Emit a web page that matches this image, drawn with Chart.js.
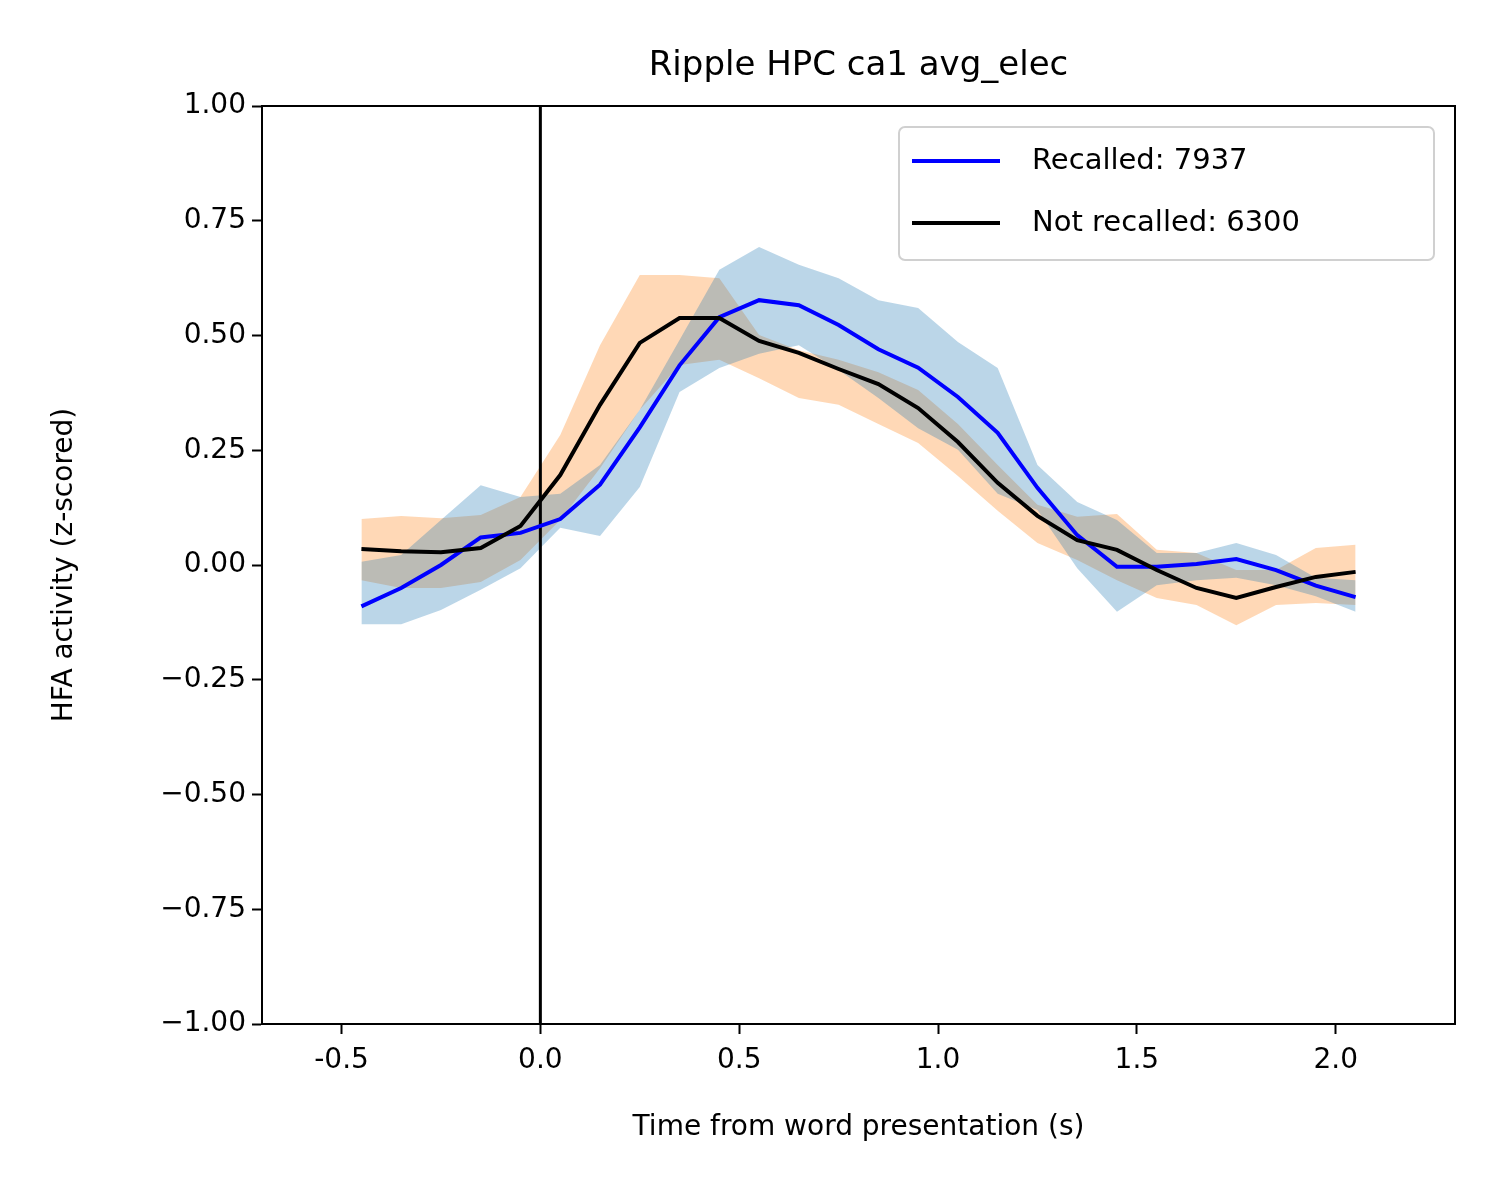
<!DOCTYPE html>
<html>
<head>
<meta charset="utf-8">
<script src="https://cdn.jsdelivr.net/npm/chart.js@4/dist/chart.umd.min.js"></script>
<style>body{margin:0;background:#fff}</style>
</head>
<body>
<canvas id="c" width="1500" height="1200"></canvas>
<script>
const times = [-0.45,-0.35,-0.25,-0.15,-0.05,0.05,0.15,0.25,0.35,0.45,0.55,0.65,0.75,0.85,0.95,1.05,1.15,1.25,1.35,1.45,1.55,1.65,1.75,1.85,1.95,2.05];
const recalled = [-0.09,-0.05,0.0,0.06,0.07,0.10,0.175,0.30,0.435,0.54,0.577,0.566,0.523,0.47,0.43,0.366,0.288,0.168,0.065,-0.004,-0.004,0.002,0.013,-0.011,-0.045,-0.07];
const recalledHi = [0.007,0.022,0.098,0.174,0.148,0.155,0.218,0.338,0.490,0.643,0.693,0.654,0.625,0.577,0.560,0.486,0.429,0.218,0.137,0.098,0.026,0.026,0.048,0.022,-0.028,-0.033];
const recalledLo = [-0.129,-0.129,-0.098,-0.054,-0.007,0.081,0.063,0.170,0.377,0.429,0.460,0.479,0.425,0.364,0.298,0.251,0.155,0.120,-0.007,-0.102,-0.044,-0.033,-0.028,-0.044,-0.068,-0.102];
const notRecalled = [0.035,0.030,0.028,0.037,0.085,0.196,0.349,0.484,0.538,0.538,0.488,0.462,0.427,0.394,0.342,0.268,0.179,0.107,0.054,0.033,-0.011,-0.05,-0.072,-0.048,-0.026,-0.015];
const notRecalledHi = [0.100,0.107,0.102,0.109,0.148,0.283,0.479,0.632,0.632,0.625,0.501,0.468,0.447,0.420,0.381,0.307,0.218,0.131,0.105,0.111,0.033,0.026,-0.011,-0.011,0.037,0.044];
const notRecalledLo = [-0.033,-0.050,-0.050,-0.037,0.011,0.098,0.211,0.338,0.436,0.447,0.407,0.364,0.349,0.307,0.266,0.194,0.118,0.048,0.011,-0.033,-0.072,-0.087,-0.131,-0.087,-0.083,-0.087];
const xTicks = [-0.5,0.0,0.5,1.0,1.5,2.0];
const yTicks = [-1.0,-0.75,-0.5,-0.25,0.0,0.25,0.5,0.75,1.0];

const pts = arr => arr.map((v, i) => ({x: times[i], y: v}));
const FONT = 'DejaVu Sans';
Chart.defaults.font.family = FONT;
Chart.defaults.color = '#000';

const band = (data, color, fill) => ({data: pts(data), borderWidth: 0, pointRadius: 0, backgroundColor: color, fill: fill, tension: 0, legend: false, order: 5});

const frame = {
  id: 'frame',
  afterDraw(chart) {
    const {ctx, chartArea: a} = chart;
    ctx.save();
    ctx.strokeStyle = '#000'; ctx.lineWidth = 2;
    ctx.strokeRect(a.left, a.top, a.right - a.left, a.bottom - a.top);
    ctx.fillStyle = '#000';
    ctx.textAlign = 'center'; ctx.textBaseline = 'middle';
    ctx.font = '34px ' + FONT;
    ctx.fillText('Ripple HPC ca1 avg_elec', (a.left + a.right) / 2, 66);
    ctx.font = '28px ' + FONT;
    ctx.fillText('Time from word presentation (s)', (a.left + a.right) / 2, 1128);
    ctx.save();
    ctx.translate(65, (a.top + a.bottom) / 2); ctx.rotate(-Math.PI / 2);
    ctx.fillText('HFA activity (z-scored)', 0, 0);
    ctx.restore();
    // legend
    const bx = 899, by = 127, bw = 535, bh = 133;
    ctx.fillStyle = 'rgba(255,255,255,0.8)';
    ctx.strokeStyle = '#d0d0d0'; ctx.lineWidth = 2;
    ctx.beginPath(); ctx.roundRect(bx, by, bw, bh, 6); ctx.fill(); ctx.stroke();
    const items = chart.data.datasets.filter(d => d.legend);
    items.forEach((d, i) => {
      const y = 161 + i * 62;
      ctx.strokeStyle = d.borderColor; ctx.lineWidth = 4;
      ctx.beginPath(); ctx.moveTo(912, y); ctx.lineTo(1000, y); ctx.stroke();
      ctx.fillStyle = '#000'; ctx.font = '29px ' + FONT; ctx.textAlign = 'left';
      ctx.fillText(d.label, 1032, y);
    });
    ctx.restore();
  }
};

new Chart(document.getElementById('c'), {
  type: 'line',
  data: {
    datasets: [
      band(recalledHi, 'rgba(31,119,180,0.3)', '+1'),
      band(recalledLo, 'rgba(31,119,180,0.3)', false),
      band(notRecalledHi, 'rgba(255,127,14,0.3)', '+1'),
      band(notRecalledLo, 'rgba(255,127,14,0.3)', false),
      {label: 'Recalled: 7937', data: pts(recalled), borderColor: '#0000ff', borderWidth: 4, pointRadius: 0, fill: false, tension: 0, legend: true, order: 1},
      {label: 'Not recalled: 6300', data: pts(notRecalled), borderColor: '#000', borderWidth: 4, pointRadius: 0, fill: false, tension: 0, legend: true, order: 0},
      {data: [{x: 0, y: -1}, {x: 0, y: 1}], borderColor: '#000', borderWidth: 3, pointRadius: 0, fill: false, legend: false, order: 2}
    ]
  },
  options: {
    responsive: false,
    animation: false,
    devicePixelRatio: 1,
    layout: {padding: {top: 106, right: 45, left: 0, bottom: 0}},
    plugins: {legend: {display: false}, tooltip: {enabled: false}},
    scales: {
      x: {
        type: 'linear', min: -0.7, max: 2.3,
        afterBuildTicks: s => { s.ticks = xTicks.map(v => ({value: v})); },
        afterFit: s => { s.height = 176; },
        ticks: {font: {size: 28}, padding: 10, callback: v => v.toFixed(1)},
        grid: {drawOnChartArea: false, tickLength: 10, tickColor: '#000', tickWidth: 2},
        border: {color: '#000', width: 2}
      },
      y: {
        min: -1, max: 1,
        afterBuildTicks: s => { s.ticks = yTicks.map(v => ({value: v})); },
        afterFit: s => { s.width = 262; },
        ticks: {font: {size: 28}, padding: 6, callback: v => (v < 0 ? '\u2212' : '') + Math.abs(v).toFixed(2)},
        grid: {drawOnChartArea: false, tickLength: 10, tickColor: '#000', tickWidth: 2},
        border: {color: '#000', width: 2}
      }
    }
  },
  plugins: [frame]
});
</script>
</body>
</html>
